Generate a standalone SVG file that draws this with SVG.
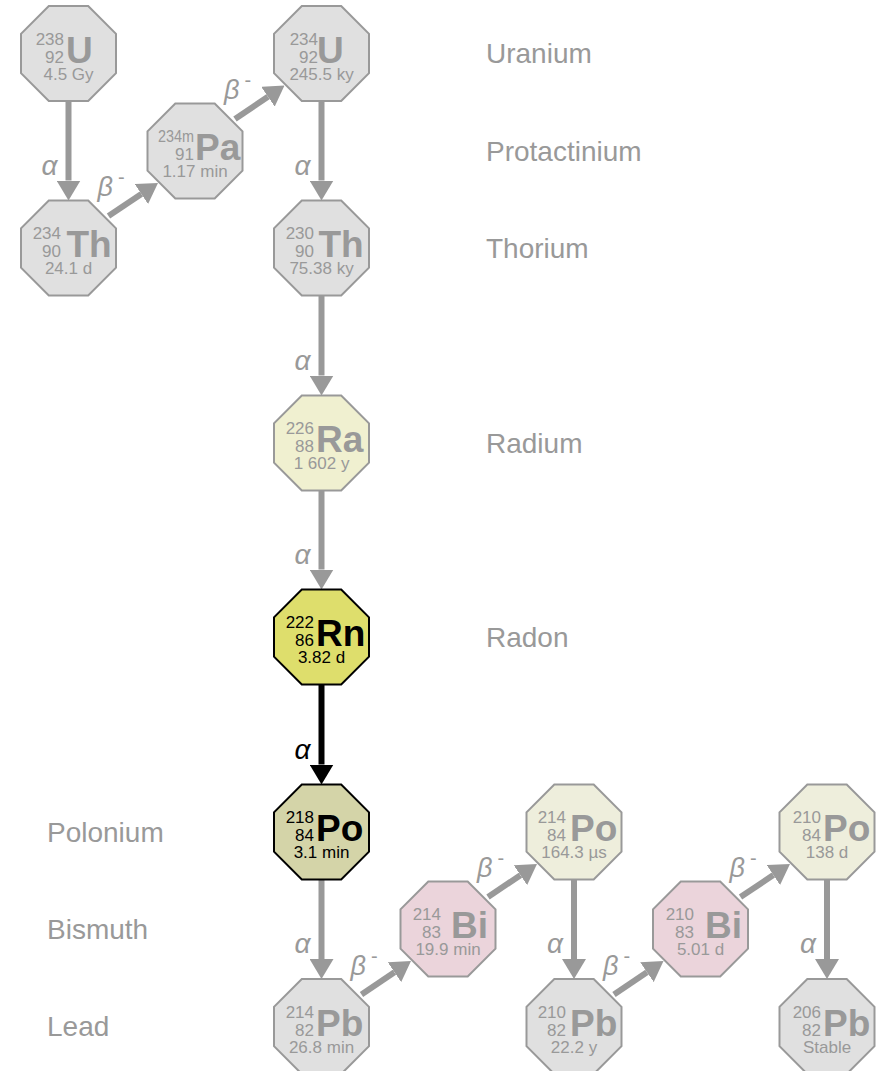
<svg xmlns="http://www.w3.org/2000/svg" width="883" height="1071" viewBox="0 0 883 1071">
<style>
text{font-family:"Liberation Sans",Arial,sans-serif}
.oct{stroke:#999;stroke-width:2}
.g{fill:#e0e0e0}
.ra{fill:#f0f0d0}
.po{fill:#eeeedc}
.bi{fill:#ebd4db}
.rn{fill:#dede6c;stroke:#000}
.po218{fill:#d4d4a8;stroke:#000}
.n{font-size:17px;fill:#999;text-anchor:end}
.s{font-size:37px;font-weight:bold;fill:#999}
.h{font-size:17px;fill:#999;text-anchor:middle}
.dk .n,.dk .s,.dk .h{fill:#000}
.lab{font-size:28px;fill:#999}
.arr{stroke:#999;stroke-width:6;fill:none;marker-end:url(#ag)}
.arrk{stroke:#000;stroke-width:6;fill:none;marker-end:url(#ak)}
.al{font-size:28px;font-style:italic;fill:#999}
.alk{font-size:28px;font-style:italic;fill:#000}
.be{font-size:27px;font-style:italic;fill:#999}
.sup{font-size:20px;font-style:normal}
</style>
<defs>
<marker id="ag" markerUnits="userSpaceOnUse" markerWidth="20" markerHeight="24" refX="0" refY="12" orient="auto" viewBox="0 0 20 24"><path d="M0,0 L20,12 L0,24 z" fill="#999"/></marker>
<marker id="ak" markerUnits="userSpaceOnUse" markerWidth="20" markerHeight="24" refX="0" refY="12" orient="auto" viewBox="0 0 20 24"><path d="M0,0 L20,12 L0,24 z" fill="#000"/></marker>
<polygon id="octp" points="-19.7,-47.5 19.7,-47.5 47.5,-19.7 47.5,19.7 19.7,47.5 -19.7,47.5 -47.5,19.7 -47.5,-19.7"/>
</defs>

<g id="labels">
<text class="lab" x="486" y="63">Uranium</text>
<text class="lab" x="486" y="160.5">Protactinium</text>
<text class="lab" x="486" y="257.5">Thorium</text>
<text class="lab" x="486" y="452.5">Radium</text>
<text class="lab" x="486" y="646.5">Radon</text>
<text class="lab" x="47" y="841.5">Polonium</text>
<text class="lab" x="47" y="938.5">Bismuth</text>
<text class="lab" x="47" y="1036">Lead</text>
</g>

<g id="connectors">
<line class="arr" x1="68.5" y1="101.5" x2="68.5" y2="180.5"/>
<line class="arr" x1="321.5" y1="101.5" x2="321.5" y2="180.5"/>
<line class="arr" x1="321.5" y1="296" x2="321.5" y2="375.5"/>
<line class="arr" x1="321.5" y1="491" x2="321.5" y2="569.5"/>
<line class="arrk" x1="321.5" y1="685" x2="321.5" y2="764.5"/>
<line class="arr" x1="321.5" y1="880" x2="321.5" y2="959"/>
<line class="arr" x1="574" y1="880" x2="574" y2="959"/>
<line class="arr" x1="827" y1="880" x2="827" y2="959"/>
<line class="arr" x1="108.5" y1="216" x2="141.36" y2="194.09"/>
<line class="arr" x1="235" y1="119" x2="267.94" y2="96.7"/>
<line class="arr" x1="361.5" y1="994.5" x2="394.44" y2="972.2"/>
<line class="arr" x1="488" y1="897" x2="520.4" y2="875.2"/>
<line class="arr" x1="614" y1="994.5" x2="646.94" y2="972.2"/>
<line class="arr" x1="740.5" y1="897" x2="773.36" y2="875.09"/>
<text class="al" x="41.5" y="175">α</text>
<text class="al" x="294.5" y="175">α</text>
<text class="al" x="294.5" y="369.5">α</text>
<text class="al" x="294.5" y="564">α</text>
<text class="alk" x="294.5" y="758.5">α</text>
<text class="al" x="294.5" y="953">α</text>
<text class="al" x="547" y="953">α</text>
<text class="al" x="800" y="953">α</text>
<text class="be" x="97.5" y="196">β<tspan class="sup" dx="5" dy="-12">-</tspan></text>
<text class="be" x="224" y="99">β<tspan class="sup" dx="5" dy="-12">-</tspan></text>
<text class="be" x="350.5" y="974.5">β<tspan class="sup" dx="5" dy="-12">-</tspan></text>
<text class="be" x="477" y="877">β<tspan class="sup" dx="5" dy="-12">-</tspan></text>
<text class="be" x="603" y="974.5">β<tspan class="sup" dx="5" dy="-12">-</tspan></text>
<text class="be" x="729.5" y="877">β<tspan class="sup" dx="5" dy="-12">-</tspan></text>
</g>

<g id="U238" transform="translate(68.5,53.5)">
<use href="#octp" class="oct g"/>
<text class="n" x="-4.5" y="-9">238</text><text class="n" x="-4.5" y="9">92</text>
<text class="s" x="-2.5" y="9">U</text><text class="h" x="0" y="26">4.5 Gy</text>
</g>
<g id="Th234" transform="translate(68.5,248)">
<use href="#octp" class="oct g"/>
<text class="n" x="-7.5" y="-9">234</text><text class="n" x="-7.5" y="9">90</text>
<text class="s" x="-2" y="9">Th</text><text class="h" x="0" y="26">24.1 d</text>
</g>
<g id="Pa234m" transform="translate(195,151)">
<use href="#octp" class="oct g"/>
<text class="n" x="-1" y="-9" textLength="36" lengthAdjust="spacingAndGlyphs">234m</text><text class="n" x="-1" y="9">91</text>
<text class="s" x="0" y="9">Pa</text><text class="h" x="0" y="26">1.17 min</text>
</g>
<g id="U234" transform="translate(321.5,53.5)">
<use href="#octp" class="oct g"/>
<text class="n" x="-3.5" y="-9">234</text><text class="n" x="-3.5" y="9">92</text>
<text class="s" x="-4.5" y="9">U</text><text class="h" x="0" y="26">245.5 ky</text>
</g>
<g id="Th230" transform="translate(321.5,248)">
<use href="#octp" class="oct g"/>
<text class="n" x="-7.5" y="-9">230</text><text class="n" x="-7.5" y="9">90</text>
<text class="s" x="-3" y="9">Th</text><text class="h" x="0" y="26">75.38 ky</text>
</g>
<g id="Ra226" transform="translate(321.5,443)">
<use href="#octp" class="oct ra"/>
<text class="n" x="-7.5" y="-9">226</text><text class="n" x="-7.5" y="9">88</text>
<text class="s" x="-5.5" y="9">Ra</text><text class="h" x="0" y="26">1 602 y</text>
</g>
<g id="Rn222" class="dk" transform="translate(321.5,637)">
<use href="#octp" class="oct rn"/>
<text class="n" x="-7.5" y="-9">222</text><text class="n" x="-7.5" y="9">86</text>
<text class="s" x="-5.5" y="9">Rn</text><text class="h" x="0" y="26">3.82 d</text>
</g>
<g id="Po218" class="dk" transform="translate(321.5,832)">
<use href="#octp" class="oct po218"/>
<text class="n" x="-7.5" y="-9">218</text><text class="n" x="-7.5" y="9">84</text>
<text class="s" x="-5.5" y="9">Po</text><text class="h" x="0" y="26">3.1 min</text>
</g>
<g id="Pb214" transform="translate(321.5,1026.5)">
<use href="#octp" class="oct g"/>
<text class="n" x="-7.5" y="-9">214</text><text class="n" x="-7.5" y="9">82</text>
<text class="s" x="-5.5" y="9">Pb</text><text class="h" x="0" y="26">26.8 min</text>
</g>
<g id="Bi214" transform="translate(448,929)">
<use href="#octp" class="oct bi"/>
<text class="n" x="-7" y="-9">214</text><text class="n" x="-7" y="9">83</text>
<text class="s" x="3" y="9">Bi</text><text class="h" x="0" y="26">19.9 min</text>
</g>
<g id="Po214" transform="translate(574,832)">
<use href="#octp" class="oct po"/>
<text class="n" x="-8" y="-9">214</text><text class="n" x="-8" y="9">84</text>
<text class="s" x="-4" y="9">Po</text><text class="h" x="0" y="26">164.3 µs</text>
</g>
<g id="Pb210" transform="translate(574,1026.5)">
<use href="#octp" class="oct g"/>
<text class="n" x="-8" y="-9">210</text><text class="n" x="-8" y="9">82</text>
<text class="s" x="-4" y="9">Pb</text><text class="h" x="0" y="26">22.2 y</text>
</g>
<g id="Bi210" transform="translate(700.5,929)">
<use href="#octp" class="oct bi"/>
<text class="n" x="-6.5" y="-9">210</text><text class="n" x="-6.5" y="9">83</text>
<text class="s" x="4.5" y="9">Bi</text><text class="h" x="0" y="26">5.01 d</text>
</g>
<g id="Po210" transform="translate(827,832)">
<use href="#octp" class="oct po"/>
<text class="n" x="-6" y="-9">210</text><text class="n" x="-6" y="9">84</text>
<text class="s" x="-4" y="9">Po</text><text class="h" x="0" y="26">138 d</text>
</g>
<g id="Pb206" transform="translate(827,1026.5)">
<use href="#octp" class="oct g"/>
<text class="n" x="-6" y="-9">206</text><text class="n" x="-6" y="9">82</text>
<text class="s" x="-4" y="9">Pb</text><text class="h" x="0" y="26">Stable</text>
</g>
</svg>
